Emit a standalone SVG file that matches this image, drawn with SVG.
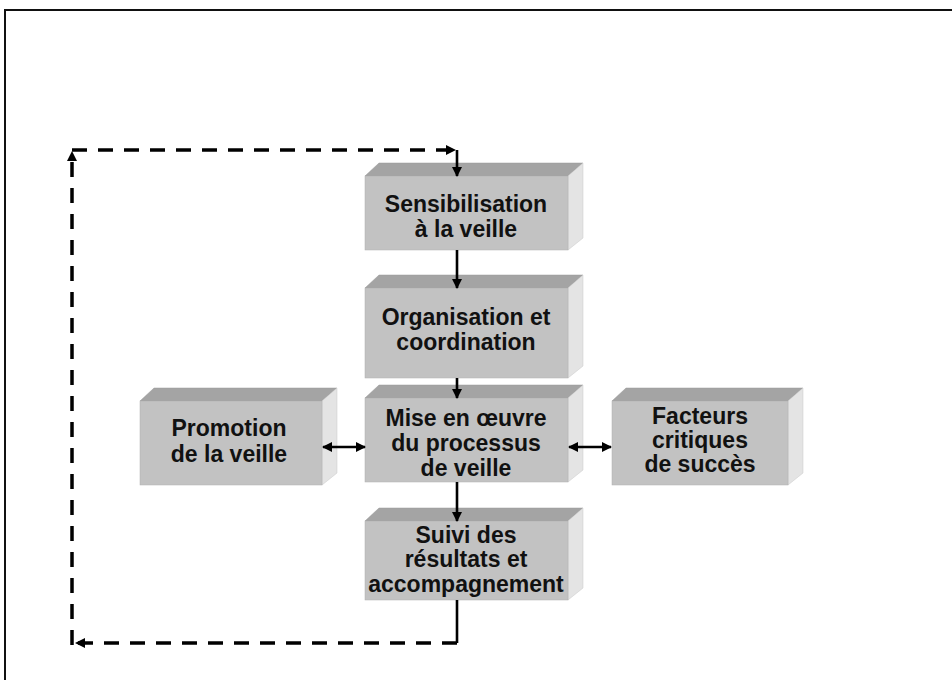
<svg xmlns="http://www.w3.org/2000/svg" width="952" height="680" viewBox="0 0 952 680">
<defs>
<marker id="ah" viewBox="0 0 10 10" refX="9" refY="5" markerWidth="10" markerHeight="10" markerUnits="userSpaceOnUse" orient="auto-start-reverse"><path d="M0,0 L10,5 L0,10 z" fill="#000"/></marker>
<style>
.front{fill:#c2c2c2;stroke:#b0b0b0;stroke-width:0.5}
.top{fill:#a4a4a4;stroke:#999;stroke-width:0.5}
.side{fill:#e4e4e4;stroke:#c8c8c8;stroke-width:0.5}
.t{font-family:"Liberation Sans",Arial,sans-serif;font-weight:bold;font-size:23px;fill:#111;text-anchor:middle}
.c{stroke:#000;stroke-width:2.6;fill:none}
.d{stroke:#000;stroke-width:3.5;fill:none;stroke-dasharray:15 11}
.frame{stroke:#111;stroke-width:2;fill:none}
</style>
</defs>
<rect width="952" height="680" fill="#fff"/>
<path class="frame" d="M5,680 L5,10 L952,10"/>

<g id="n1">
<polygon class="top" points="365,176 379,163 583,163 568,176"/>
<polygon class="side" points="568,176 583,163 583,238 568,250"/>
<rect class="front" x="365" y="176" width="203" height="74"/>
<text class="t" x="466" y="212">Sensibilisation</text>
<text class="t" x="466" y="237">à la veille</text>
</g>

<g id="n2">
<polygon class="top" points="365,288 379,275 583,275 568,288"/>
<polygon class="side" points="568,288 583,275 583,366 568,378"/>
<rect class="front" x="365" y="288" width="203" height="90"/>
<text class="t" x="466" y="325">Organisation et</text>
<text class="t" x="466" y="350">coordination</text>
</g>

<g id="n3">
<polygon class="top" points="365,398 379,385 583,385 568,398"/>
<polygon class="side" points="568,398 583,385 583,470 568,482"/>
<rect class="front" x="365" y="398" width="203" height="84"/>
<text class="t" x="466" y="426">Mise en œuvre</text>
<text class="t" x="466" y="451">du processus</text>
<text class="t" x="466" y="476">de veille</text>
</g>

<g id="n4">
<polygon class="top" points="365,521 379,508 583,508 568,521"/>
<polygon class="side" points="568,521 583,508 583,588 568,600"/>
<rect class="front" x="365" y="521" width="203" height="79"/>
<text class="t" x="466" y="543">Suivi des</text>
<text class="t" x="466" y="567">résultats et</text>
<text class="t" x="466" y="592">accompagnement</text>
</g>

<g id="n5">
<polygon class="top" points="140,401 154,388 337,388 322,401"/>
<polygon class="side" points="322,401 337,388 337,473 322,485"/>
<rect class="front" x="140" y="401" width="182" height="84"/>
<text class="t" x="229" y="436">Promotion</text>
<text class="t" x="229" y="462">de la veille</text>
</g>

<g id="n6">
<polygon class="top" points="612,401 626,388 803,388 788,401"/>
<polygon class="side" points="788,401 803,388 803,473 788,485"/>
<rect class="front" x="612" y="401" width="176" height="84"/>
<text class="t" x="700" y="424">Facteurs</text>
<text class="t" x="700" y="448">critiques</text>
<text class="t" x="700" y="472">de succès</text>
</g>

<g id="connectors">
<line class="c" x1="457" y1="250" x2="457" y2="288" marker-end="url(#ah)"/>
<line class="c" x1="457" y1="378" x2="457" y2="398" marker-end="url(#ah)"/>
<line class="c" x1="457" y1="482" x2="457" y2="521" marker-end="url(#ah)"/>
<line class="c" x1="323" y1="447" x2="365" y2="447" marker-start="url(#ah)" marker-end="url(#ah)"/>
<line class="c" x1="569" y1="447" x2="611" y2="447" marker-start="url(#ah)" marker-end="url(#ah)"/>
<line class="c" x1="457" y1="600" x2="457" y2="643"/>
<line class="d" x1="457" y1="643" x2="76" y2="643" marker-end="url(#ah)"/>
<line class="d" x1="72" y1="645" x2="72" y2="152" marker-end="url(#ah)"/>
<line class="d" x1="72" y1="150" x2="455" y2="150" marker-end="url(#ah)"/>
<line class="c" x1="457" y1="150" x2="457" y2="176" marker-end="url(#ah)"/>
</g>
</svg>
